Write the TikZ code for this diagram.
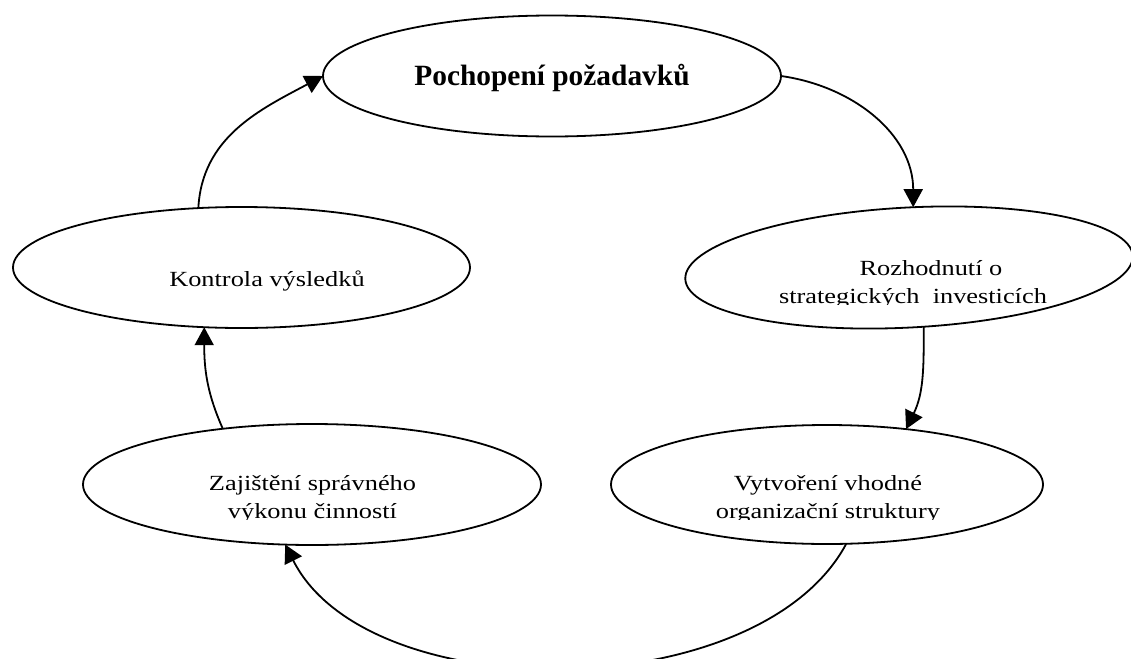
\documentclass[tikz,border=0pt]{standalone}
\usepackage{fontspec}
\setmainfont{Liberation Serif}
\newfontfamily\bodyfont[FakeStretch=1.22]{Liberation Serif}
\usetikzlibrary{shapes.geometric,arrows.meta}
\begin{document}
\begin{tikzpicture}[x=0.5pt,y=0.5pt,
  ell/.style={ellipse,draw,line width=0.9pt,inner sep=0pt,outer sep=0pt},
  conn/.style={line width=0.9pt,-{Triangle[length=9pt,width=9.5pt]}},
  bodytxt/.style={anchor=base,inner sep=0pt,font=\bodyfont\fontsize{10.8}{14.3}\selectfont},
  titletxt/.style={anchor=base,inner sep=0pt,font=\bfseries\fontsize{14.7}{17}\selectfont}]
\useasboundingbox (0,0) rectangle (1131,-659);
\clip (0,0) rectangle (1131,-659);
% ellipses
\node[ell,minimum width=229pt,minimum height=60.5pt] (top) at (552,-76) {};
\node[ell,rotate=3,minimum width=224pt,minimum height=60pt] (right) at (909,-267.5) {};
\node[ell,minimum width=228.5pt,minimum height=60.5pt] (kon) at (241.5,-267.5) {};
\node[ell,minimum width=229pt,minimum height=60.5pt] (zaj) at (312,-484.5) {};
\node[ell,minimum width=216pt,minimum height=59.5pt] (vyt) at (827,-484.5) {};
% texts
\node[titletxt] (ttop) at (552,-85) {Pochopení požadavků};
\node[bodytxt] (tkon) at (267,-286) {Kontrola výsledků};
\begin{scope}
\clip (690,-240) rectangle (1131,-304);
\node[bodytxt] (tright) at (913,-275) {\begin{tabular}[t]{@{}c@{}}\hspace*{18pt}Rozhodnutí o\\strategických\ \ investicích\end{tabular}};
\end{scope}
\begin{scope}
\clip (100,-455) rectangle (530,-519);
\node[bodytxt] (tzaj) at (312.5,-490) {\begin{tabular}[t]{@{}c@{}}Zajištění správného\\výkonu činností\end{tabular}};
\end{scope}
\begin{scope}
\clip (620,-455) rectangle (1040,-519);
\node[bodytxt] (tvyt) at (828,-490) {\begin{tabular}[t]{@{}c@{}}Vytvoření vhodné\\organizační struktury\end{tabular}};
\end{scope}
% connectors
\draw[conn] (top.east) to[out=-8,in=90] (right.83);
\draw[conn] (right.-79) to[out=-90,in=64] (vyt.35);
\draw[conn] (vyt.-72) .. controls +(-87,-163) and +(83,-165) .. (zaj.-114);
\draw[conn] (zaj.148) to[out=114,in=-90] (kon.-122);
\draw[conn] (kon.126) to[out=87,in=208] (top.west);
\end{tikzpicture}
\end{document}
